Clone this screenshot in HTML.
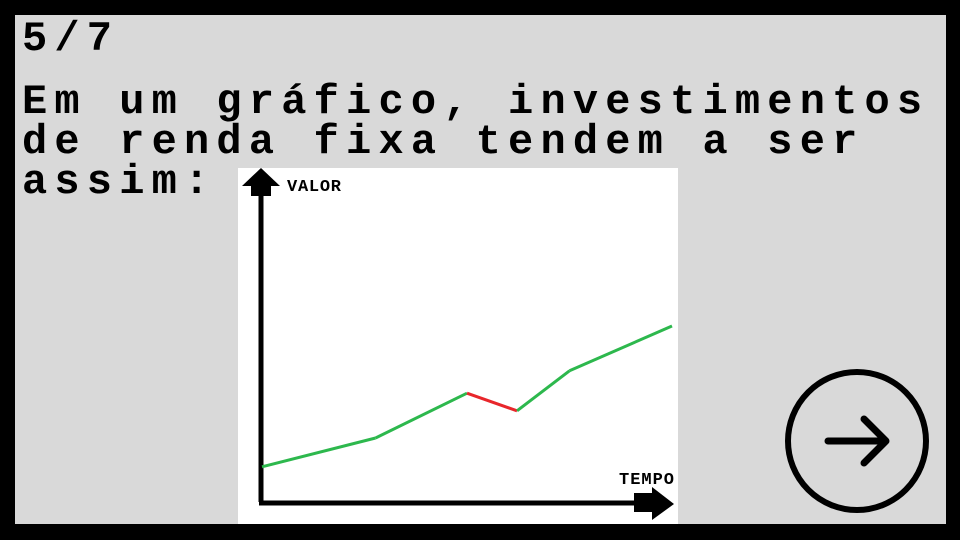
<!DOCTYPE html>
<html><head><meta charset="utf-8"><style>
html,body{margin:0;padding:0}
body{width:960px;height:540px;background:#000;position:relative;overflow:hidden;font-family:"Liberation Mono",monospace}
#panel{position:absolute;left:15px;top:15px;width:931px;height:509px;background:#d9d9d9}
.t{position:absolute;left:22px;font-weight:bold;font-size:42px;letter-spacing:7.2px;color:#000;white-space:pre;line-height:40px}
</style></head><body>
<div id="panel"></div>
<div class="t" style="top:19px">5/7</div>
<div class="t" style="top:82px">Em um gráfico, investimentos
de renda fixa tendem a ser
assim:</div>
<svg width="960" height="540" style="position:absolute;left:0;top:0">
<rect x="238" y="168" width="440" height="356" fill="#fff"/>
<line x1="261" y1="185" x2="261" y2="502" stroke="#000" stroke-width="5"/>
<polygon points="242,186 261,168 280,186" fill="#000"/>
<rect x="251" y="184" width="20" height="12" fill="#000"/>
<line x1="259" y1="503" x2="640" y2="503" stroke="#000" stroke-width="5"/>
<polygon points="634,493 652,493 652,487 674,504 652,520 652,512 634,512" fill="#000"/>
<text x="287" y="191" font-family="Liberation Mono,monospace" font-weight="bold" font-size="17" textLength="54">VALOR</text>
<text x="619" y="484" font-family="Liberation Mono,monospace" font-weight="bold" font-size="17" textLength="55">TEMPO</text>
<g id="series"></g>
<circle cx="857" cy="441" r="69" fill="none" stroke="#000" stroke-width="6"/>
<path d="M828,441 H886 M864,419 L886,441 L864,463" fill="none" stroke="#000" stroke-width="7" stroke-linecap="round" stroke-linejoin="round"/>
</svg>
<script>
const times=[0,1,2,3,4,5];
const tPos=[0,0.277,0.5,0.622,0.75,1];
const values=[1.1,2.0,3.4,2.85,4.1,5.5];
const xMin=0,xMax=1,yMin=0,yMax=10;
function X(t){return 262+(t-xMin)/(xMax-xMin)*410;}
function Y(v){return 502-(v-yMin)/(yMax-yMin)*320;}
const g=document.getElementById('series');
for(let i=0;i<values.length-1;i++){
  const l=document.createElementNS('http://www.w3.org/2000/svg','line');
  l.setAttribute('x1',X(tPos[i]));l.setAttribute('y1',Y(values[i]));
  l.setAttribute('x2',X(tPos[i+1]));l.setAttribute('y2',Y(values[i+1]));
  l.setAttribute('stroke',values[i+1]<values[i]?'#e8262b':'#2db84d');
  l.setAttribute('stroke-width','3');
  
  
  g.appendChild(l);
}
</script>
</body></html>
